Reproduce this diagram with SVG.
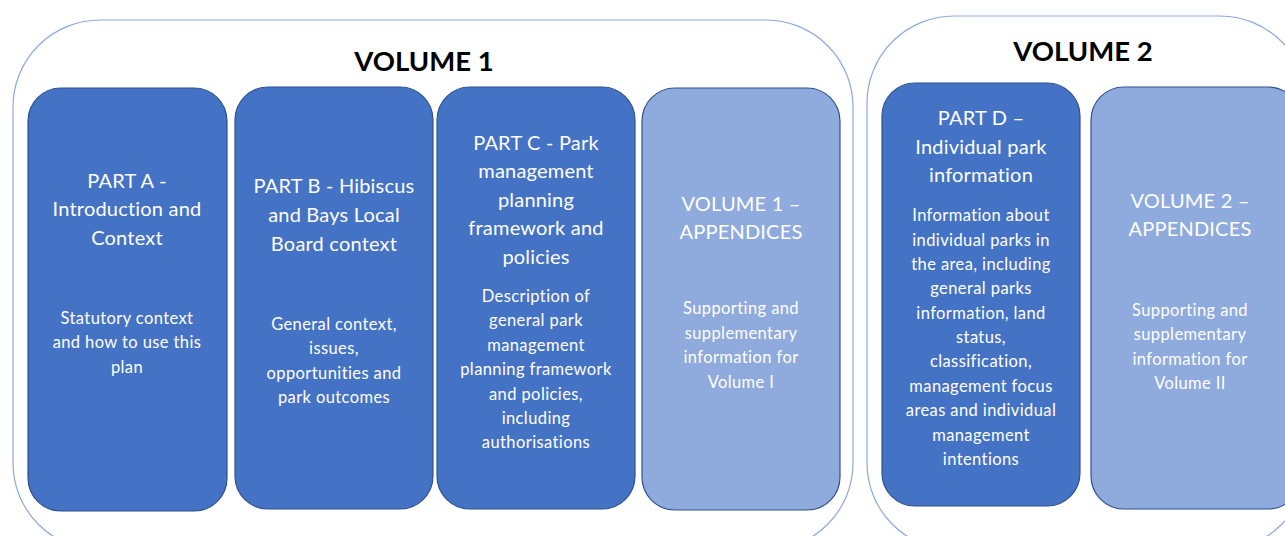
<svg xmlns="http://www.w3.org/2000/svg" width="1285" height="536" viewBox="0 0 1285 536">
<style>
.outer{fill:#fff;stroke:#8EA9DB;stroke-width:1.2}
.dark{fill:#4472C4;stroke:#2F528F;stroke-width:1.2}
.light{fill:#8FAADC;stroke:#2F528F;stroke-width:1.2}
.vt{font-family:Lato,"Open Sans",sans-serif;font-weight:bold;font-size:27.5px;fill:#000;text-anchor:middle}
.h{font-family:Lato,"Open Sans",sans-serif;font-size:20px;letter-spacing:0.2px;fill:#fff;text-anchor:middle}
.b{font-family:Lato,"Open Sans",sans-serif;font-size:16.5px;letter-spacing:0.4px;fill:#fff;text-anchor:middle}
</style>
<rect width="1285" height="536" fill="#fff"/>
<g id="volume1">
<rect class="outer" x="13" y="20" width="840" height="530" rx="87" ry="87"/>
<text class="vt" x="424" y="71">VOLUME 1</text>
</g>
<g id="volume2">
<rect class="outer" x="867" y="16" width="440" height="534" rx="87" ry="87"/>
<text class="vt" x="1083" y="61">VOLUME 2</text>
</g>
<g id="partA">
<rect class="dark" x="28" y="88" width="199" height="423" rx="33" ry="33"/>
<text class="h" x="127"><tspan x="127" y="188">PART A -</tspan><tspan x="127" y="216">Introduction and</tspan><tspan x="127" y="245">Context</tspan></text>
<text class="b" x="127"><tspan x="127" y="324">Statutory context</tspan><tspan x="127" y="348">and how to use this</tspan><tspan x="127" y="373">plan</tspan></text>
</g>
<g id="partB">
<rect class="dark" x="235" y="87" width="198" height="422" rx="33" ry="33"/>
<text class="h"><tspan x="334" y="193">PART B - Hibiscus</tspan><tspan x="334" y="222">and Bays Local</tspan><tspan x="334" y="251">Board context</tspan></text>
<text class="b"><tspan x="334" y="330">General context,</tspan><tspan x="334" y="354">issues,</tspan><tspan x="334" y="379">opportunities and</tspan><tspan x="334" y="403">park outcomes</tspan></text>
</g>
<g id="partC">
<rect class="dark" x="437" y="87" width="198" height="422" rx="33" ry="33"/>
<text class="h"><tspan x="536" y="150">PART C - Park</tspan><tspan x="536" y="178">management</tspan><tspan x="536" y="207">planning</tspan><tspan x="536" y="235">framework and</tspan><tspan x="536" y="264">policies</tspan></text>
<text class="b"><tspan x="536" y="302">Description of</tspan><tspan x="536" y="326">general park</tspan><tspan x="536" y="351">management</tspan><tspan x="536" y="375">planning framework</tspan><tspan x="536" y="400">and policies,</tspan><tspan x="536" y="424">including</tspan><tspan x="536" y="448">authorisations</tspan></text>
</g>
<g id="vol1appendices">
<rect class="light" x="642" y="88" width="198" height="422" rx="33" ry="33"/>
<text class="h"><tspan x="741" y="211">VOLUME 1 –</tspan><tspan x="741" y="239">APPENDICES</tspan></text>
<text class="b"><tspan x="741" y="314">Supporting and</tspan><tspan x="741" y="339">supplementary</tspan><tspan x="741" y="363">information for</tspan><tspan x="741" y="388">Volume I</tspan></text>
</g>
<g id="partD">
<rect class="dark" x="882" y="83" width="198" height="423" rx="33" ry="33"/>
<text class="h"><tspan x="981" y="125">PART D –</tspan><tspan x="981" y="154">Individual park</tspan><tspan x="981" y="182">information</tspan></text>
<text class="b"><tspan x="981" y="221">Information about</tspan><tspan x="981" y="246">individual parks in</tspan><tspan x="981" y="270">the area, including</tspan><tspan x="981" y="294">general parks</tspan><tspan x="981" y="319">information, land</tspan><tspan x="981" y="343">status,</tspan><tspan x="981" y="367">classification,</tspan><tspan x="981" y="392">management focus</tspan><tspan x="981" y="416">areas and individual</tspan><tspan x="981" y="441">management</tspan><tspan x="981" y="465">intentions</tspan></text>
</g>
<g id="vol2appendices">
<rect class="light" x="1091" y="87" width="210" height="422" rx="33" ry="33"/>
<text class="h"><tspan x="1190" y="208">VOLUME 2 –</tspan><tspan x="1190" y="236">APPENDICES</tspan></text>
<text class="b"><tspan x="1190" y="316">Supporting and</tspan><tspan x="1190" y="340">supplementary</tspan><tspan x="1190" y="365">information for</tspan><tspan x="1190" y="389">Volume II</tspan></text>
</g>
<g id="connectors"/>
</svg>
